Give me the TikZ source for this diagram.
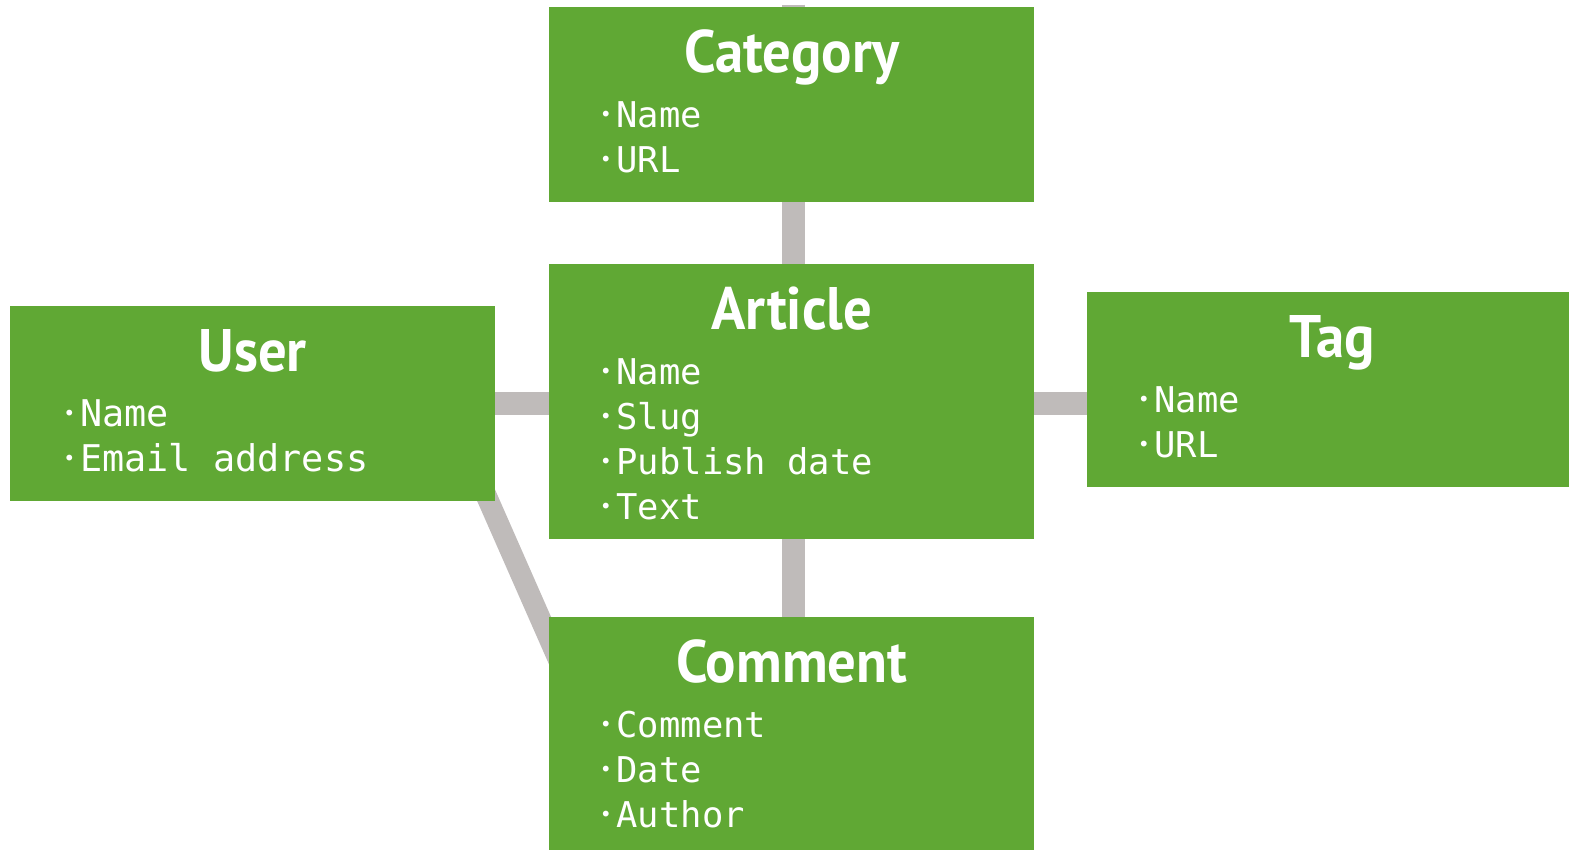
\documentclass[tikz,border=0pt]{standalone}
\usepackage{fontspec}
\usetikzlibrary{calc,backgrounds}
\newfontfamily\titlefont{PT Sans}[FakeStretch=0.945]
\newfontfamily\itemfont{DejaVu Sans Mono}
\definecolor{egreen}{RGB}{96,168,52}
\definecolor{lgray}{RGB}{191,187,186}
\newcommand\smallbullet{\makebox[0.602em][c]{\raisebox{0.155em}{\fontsize{20}{20}\selectfont •}}}
\tikzset{
  ebox/.style={fill=egreen, draw=none, inner sep=0pt, rectangle},
  etitle/.style={text=white, inner sep=0pt, font=\titlefont\bfseries\fontsize{60}{60}\selectfont},
  eitem/.style={text=white, inner sep=0pt},
  link/.style={draw=lgray, line width=23pt}
}
% #1 name, #2 x, #3 y, #4 w, #5 h, #6 title, #7 items, #8 item size, #9 item x offset
\newcommand\entitybox[9]{%
  \node[ebox, minimum width=#4pt, minimum height=#5pt, anchor=north west] (#1) at (#2,#3) {};
  \node[etitle, anchor=base] (#1-t) at ($(#1.north)+(0,65)$) {#6};
  \foreach \itm [count=\i] in {#7} {
    \node[eitem, font=\itemfont\fontsize{#8}{#8}\selectfont, anchor=base west] (#1-\i) at ($(#1.north west)+(#9,75+45*\i)$) {\smallbullet\itm};
  }
}
\begin{document}
\begin{tikzpicture}[x=1pt,y=-1pt]
\useasboundingbox (0,0) rectangle (1569,849);
\entitybox{cat}{549}{7}{485}{195}{Category}{Name,URL}{35.5}{46}
\entitybox{art}{549}{264}{485}{275}{Article}{Name,Slug,Publish date,Text}{35.5}{46}
\entitybox{user}{10}{306}{485}{195}{User}{Name,Email address}{36.8}{48}
\entitybox{tag}{1087}{292}{490}{195}{Tag}{Name,URL}{35.5}{46}
\entitybox{com}{549}{617}{485}{240}{Comment}{Comment,Date,Author}{35.5}{46}
\coordinate (ctop) at (793,4.5);
\coordinate (d1) at (460,436);
\coordinate (d2) at (570,686);
\begin{scope}[on background layer]
  \draw[link] (ctop) -- (ctop |- art.center);
  \draw[link] (ctop |- art.center) -- (ctop |- com.center);
  \draw[link] (user.center |- 0,403.5) -- (tag.center |- 0,403.5);
  \draw[link, line width=21pt] (d1) -- (d2);
\end{scope}
\end{tikzpicture}
\end{document}
